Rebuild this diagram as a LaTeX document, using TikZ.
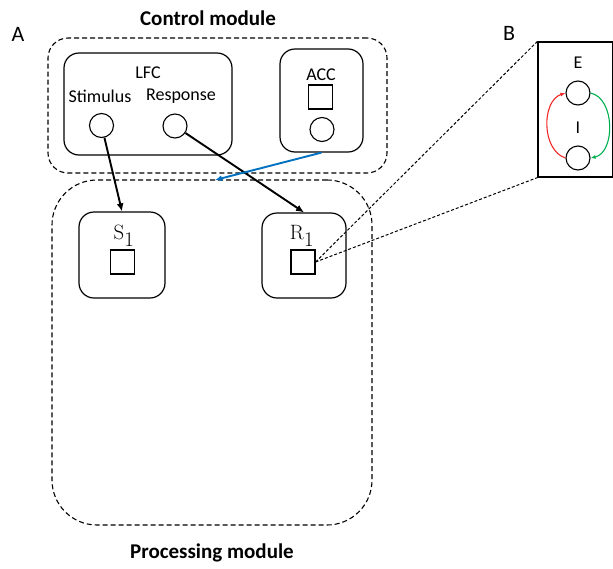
\documentclass[tikz,border=0pt]{standalone}
\usepackage[no-math]{fontspec}
\setmainfont{Carlito}
\usetikzlibrary{arrows.meta}

\definecolor{accblue}{RGB}{0,112,192}
\definecolor{excred}{RGB}{240,40,40}
\definecolor{inhgreen}{RGB}{0,176,80}

% unit name with a full-size subscript
\newcommand{\unitname}[2]{\fontsize{20}{22}\selectfont$\mathrm{#1}_{\textstyle #2}$}

\begin{document}
\begin{tikzpicture}[
  x=1pt,y=-1pt,
  font=\fontsize{18}{21}\selectfont,
  module/.style={draw,dash pattern=on 5pt off 3pt,line width=1.1pt,inner sep=0pt},
  area/.style={draw,line width=1.2pt,rounded corners=15pt,inner sep=0pt},
  unit/.style={circle,draw,line width=1.1pt,minimum size=24pt,inner sep=0pt},
  cell/.style={rectangle,draw,line width=1.1pt,minimum size=24pt,inner sep=0pt},
  link/.style={-{Latex[length=8pt,width=7pt]},line width=1.9pt},
  ctrl/.style={-{Latex[length=7pt,width=6pt]},line width=1.9pt,accblue},
  loopE/.style={-{Latex[length=5pt,width=4pt]},line width=1.1pt,excred},
  loopI/.style={-{Latex[length=5pt,width=4pt]},line width=1.1pt,inhgreen},
  zoomline/.style={dash pattern=on 3pt off 2pt,line width=1pt},
  title/.style={font=\bfseries\fontsize{21}{24}\selectfont},
  panel/.style={font=\fontsize{22}{24}\selectfont}
]
\useasboundingbox (0,0) rectangle (613,568);

% Panel letters
\node[panel] (labA) at (18,34) {A};
\node[panel] (labB) at (509,33) {B};

%%%%%%%%%%%%%%%%%%%%%%%%%%%%%%%%%%%%%%%%%%%%%%%%%%%%
% Control module
%%%%%%%%%%%%%%%%%%%%%%%%%%%%%%%%%%%%%%%%%%%%%%%%%%%%
\node[title] (ctrltitle) at (208,18) {Control module};
\node[module,rounded corners=20pt,minimum width=339pt,minimum height=135pt] (control) at (217.5,105.5) {};

\node[area,minimum width=168pt,minimum height=102pt] (lfc) at (148,104) {};
\node (lfctext) at (148,73) {LFC};
\node (stimtext) at (100,96) {Stimulus};
\node (resptext) at (181,96) {Response};
\node[unit] (stim) at (101.5,125.5) {};
\node[unit] (resp) at (175,126) {};

\node[area,minimum width=83pt,minimum height=103pt] (acc) at (321.5,100.5) {};
\node (acctext) at (321,75) {ACC};
\node[cell] (accsq) at (320.5,97) {};
\node[unit] (acccirc) at (322,129.5) {};

%%%%%%%%%%%%%%%%%%%%%%%%%%%%%%%%%%%%%%%%%%%%%%%%%%%%
% Processing module
%%%%%%%%%%%%%%%%%%%%%%%%%%%%%%%%%%%%%%%%%%%%%%%%%%%%
\node[module,rounded corners=45pt,minimum width=320pt,minimum height=345pt] (proc) at (212,352.5) {};
\node[title] (proctitle) at (212,553) {Processing module};

\node[area,minimum width=86pt,minimum height=86pt] (sbox) at (122,255) {};
\node (stext) at (124,236) {\unitname{S}{1}};
\node[cell] (ssq) at (122.5,262) {};

\node[area,minimum width=84pt,minimum height=85pt] (rbox) at (304,255.5) {};
\node (rtext) at (302,236) {\unitname{R}{1}};
\node[cell] (rsq) at (303,262) {};

% LFC -> processing units, ACC -> processing module
\draw[link] (stim) -- (sbox.north);
\draw[link] (resp) -- (rbox.north);
\coordinate (ctrlin) at (215,180);
\draw[ctrl] (acc.south) -- (ctrlin);

%%%%%%%%%%%%%%%%%%%%%%%%%%%%%%%%%%%%%%%%%%%%%%%%%%%%
% (B) E/I circuit inside a unit
%%%%%%%%%%%%%%%%%%%%%%%%%%%%%%%%%%%%%%%%%%%%%%%%%%%%
\node[draw,line width=1.2pt,minimum width=75pt,minimum height=135pt,inner sep=0pt] (bpanel) at (575.5,109.5) {};
\node (etext) at (578,63) {E};
\node[unit] (exc) at (578,93) {};
\node (itext) at (578,128) {I};
\node[unit] (inh) at (578,158) {};

\draw[loopE] (inh.west) to[bend left=72] (exc.west);
\draw[loopI] (exc.east) to[bend left=78] (inh.east);

\draw[zoomline] (rsq.east) -- (bpanel.north west);
\draw[zoomline] (rsq.east) -- (bpanel.south west);

\end{tikzpicture}
\end{document}
